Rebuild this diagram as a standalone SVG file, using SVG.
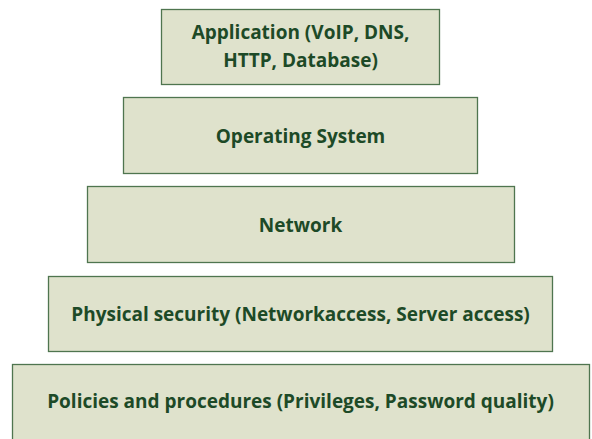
<svg xmlns="http://www.w3.org/2000/svg" width="592" height="439" viewBox="0 0 592 439">
<style>
.box{fill:#dfe2cc;stroke:#4f754f;stroke-width:1.3}
.t{font-family:"Open Sans","Liberation Sans",sans-serif;font-weight:bold;font-size:19px;fill:#1d4a27;text-anchor:middle}
</style>
<rect width="592" height="439" fill="#ffffff"/>
<g id="app"><rect class="box" x="161.5" y="9.5" width="278" height="75"/>
<text class="t" x="300.5" y="39">Application (VoIP, DNS,</text>
<text class="t" x="300.5" y="67">HTTP, Database)</text></g>
<g id="os"><rect class="box" x="123.5" y="97.5" width="354" height="76"/>
<text class="t" x="300.5" y="143">Operating System</text></g>
<g id="net"><rect class="box" x="87.5" y="186.5" width="427" height="76"/>
<text class="t" x="300.5" y="232">Network</text></g>
<g id="phys"><rect class="box" x="48.5" y="276.5" width="504" height="75"/>
<text class="t" x="300.5" y="321">Physical security (Networkaccess, Server access)</text></g>
<g id="pol"><rect class="box" x="12.5" y="364.5" width="577" height="80"/>
<text class="t" x="300.5" y="408">Policies and procedures (Privileges, Password quality)</text></g>
<g id="connectors"/>
</svg>
